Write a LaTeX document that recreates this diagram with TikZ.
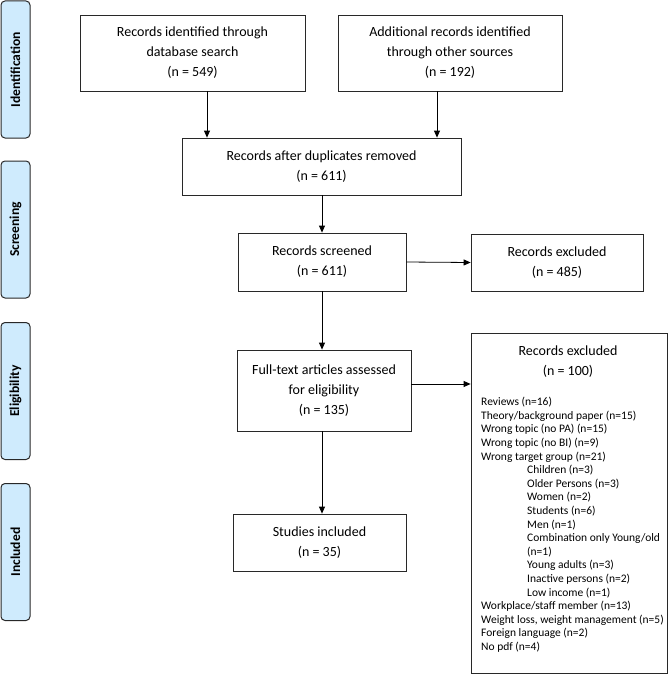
\documentclass[tikz,border=0pt]{standalone}
\usepackage{fontspec}
\setmainfont{Carlito}
\usetikzlibrary{arrows.meta}
\definecolor{tabblue}{RGB}{207,235,253}
\definecolor{edge}{RGB}{40,40,40}
\tikzset{
  tab/.style={draw=edge, fill=tabblue, line width=1pt, rounded corners=4pt,
    minimum width=29pt, minimum height=137pt, inner sep=0pt},
  tabtext/.style={rotate=90, font=\fontsize{13.6}{15}\selectfont\bfseries, inner sep=0pt},
  box/.style={draw=edge, line width=0.8pt, inner sep=0pt, align=center,
    font=\fontsize{14}{20}\selectfont},
  listtext/.style={inner sep=0pt, align=left, anchor=north west,
    font=\fontsize{11.5}{13.6}\selectfont},
  arr/.style={line width=0.8pt, -{Triangle[length=7pt,width=6pt]}}
}
\begin{document}
\begin{tikzpicture}[x=1pt,y=-1pt]
\useasboundingbox (0,0) rectangle (668,685);
% side tabs
\node[tab] (t1) at (15.5,69.5) {};
\node[tabtext] (t1l) at (t1) {Identification};
\node[tab] (t2) at (15.5,229.5) {};
\node[tabtext] (t2l) at (t2) {Screening};
\node[tab] (t3) at (15.5,391) {};
\node[tabtext] (t3l) at (t3) {Eligibility};
\node[tab] (t4) at (15.5,552) {};
\node[tabtext] (t4l) at (t4) {Included};
% boxes
\node[box, minimum width=225pt, minimum height=76pt] (db) at (192.5,53)
  {Records identified through\\database search\\(n = 549)};
\node[box, minimum width=224pt, minimum height=76pt] (oth) at (450,53)
  {Additional records identified\\through other sources\\(n = 192)};
\node[box, minimum width=279pt, minimum height=57pt] (dup) at (321.5,166.5)
  {Records after duplicates removed\\(n = 611)};
\node[box, minimum width=168pt, minimum height=58pt] (scr) at (322,262)
  {Records screened\\(n = 611)};
\node[box, minimum width=172pt, minimum height=57pt] (ex1) at (557,262.5)
  {Records excluded\\(n = 485)};
\node[box, minimum width=174pt, minimum height=81pt] (ft) at (324,390.5)
  {Full-text articles assessed\\for eligibility\\(n = 135)};
\node[box, minimum width=173pt, minimum height=57pt] (inc) at (319.5,542.5)
  {Studies included\\(n = 35)};
\node[box, minimum width=196pt, minimum height=340pt] (ex2) at (569,503) {};
\node[inner sep=0pt, align=center, font=\fontsize{14}{20}\selectfont] (ex2t) at (568,362)
  {Records excluded\\(n = 100)};
\node[listtext] (ex2l) at (481,397) {Reviews (n=16)\\
Theory/background paper (n=15)\\
Wrong topic (no PA) (n=15)\\
Wrong topic (no BI) (n=9)\\
Wrong target group (n=21)\\
\hspace*{46pt}Children (n=3)\\
\hspace*{46pt}Older Persons (n=3)\\
\hspace*{46pt}Women (n=2)\\
\hspace*{46pt}Students (n=6)\\
\hspace*{46pt}Men (n=1)\\
\hspace*{46pt}Combination only Young/old\\
\hspace*{46pt}(n=1)\\
\hspace*{46pt}Young adults (n=3)\\
\hspace*{46pt}Inactive persons (n=2)\\
\hspace*{46pt}Low income (n=1)\\
Workplace/staff member (n=13)\\
Weight loss, weight management (n=5)\\
Foreign language (n=2)\\
No pdf (n=4)};
% arrows
\coordinate (ftout) at ([yshift=6.5pt]ft.east);
\draw[arr] (db.south -| 207,0) -- (dup.north -| 207,0);
\draw[arr] (oth.south -| 437,0) -- (dup.north -| 437,0);
\draw[arr] (dup.south -| scr.north) -- (scr.north);
\draw[arr] (scr.east) -- (ex1.west);
\draw[arr] (scr.south) -- (ft.north -| scr.south);
\draw[arr] (ftout) -- (ex2.west |- ftout);
\draw[arr] (ft.south -| scr.south) -- (inc.north -| scr.south);
\end{tikzpicture}
\end{document}
